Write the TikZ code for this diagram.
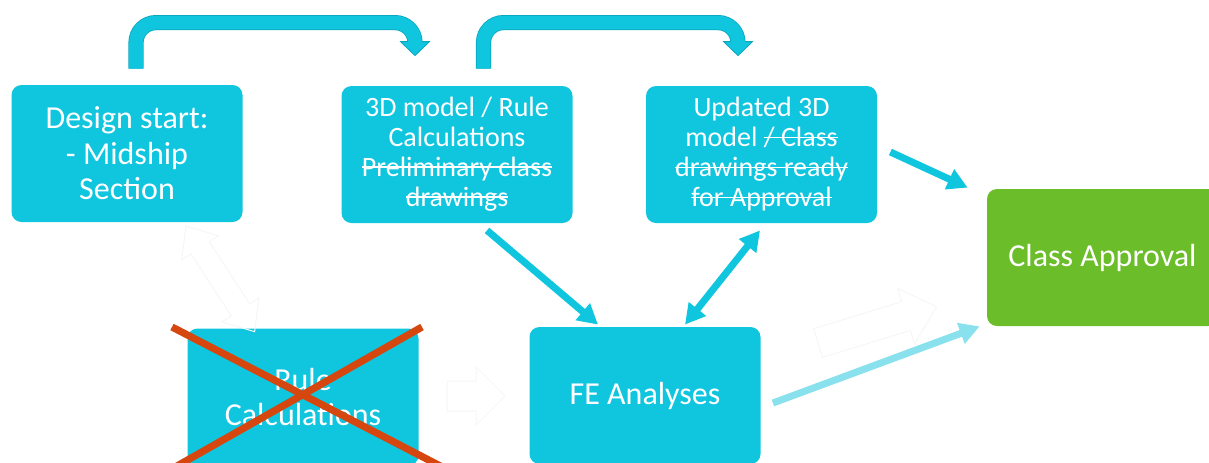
\documentclass[tikz,border=0pt]{standalone}
\usepackage{fontspec}
\setmainfont{Carlito}
\usetikzlibrary{arrows.meta,calc}

\definecolor{boxcyan}{HTML}{10C5DE}
\definecolor{edgecyan}{HTML}{0BA6BD}
\definecolor{approvegreen}{HTML}{6BBD2A}
\definecolor{crossred}{HTML}{D6470F}
\definecolor{palecyan}{HTML}{8AE1EE}
\definecolor{ghostgray}{HTML}{F6F6F6}

% struck-through text: the word with a thin rule laid across it
\newcommand\strk[1]{\setbox0\hbox{#1}\rlap{\rule[0.66ex]{\wd0}{0.75pt}}\box0}

\begin{document}
\begin{tikzpicture}[x=0.5pt,y=-0.5pt,
  box/.style={rectangle, rounded corners=5pt, fill=boxcyan, text=white,
    minimum width=115.5pt, minimum height=68.5pt, inner sep=0pt, align=center,
    font=\fontsize{14}{15}\selectfont},
  bigtext/.style={font=\fontsize{16}{17.75}\selectfont},
  flow/.style={draw=boxcyan, line width=3.5pt,
    -{Triangle[width=10.5pt,length=10pt]}},
  bentback/.style={draw=edgecyan, line width=7.6pt, rounded corners=10pt},
  bentfront/.style={draw=boxcyan, line width=6.8pt, rounded corners=10pt},
  bentedge/.style={fill=boxcyan, draw=edgecyan, line width=0.4pt, line join=miter},
  ghost/.style={draw=ghostgray, line width=0.5pt},
  crossline/.style={draw=crossred, line width=3.6pt}
]
\useasboundingbox (0,0) rectangle (1209,462);
\clip (0,0) rectangle (1209,462);

% process boxes
\node[box, bigtext] (des) at (127,153.5) {Design start:\\- Midship\\Section};
\node[box] (m3d) at (457,154.5)
  {3D model / Rule\\Calculations\\\strk{Preliminary class}\\\strk{drawings}};
\node[box] (upd) at (761.5,154.5)
  {Updated 3D\\model \strk{/ Class}\\\strk{drawings ready}\\\strk{for Approval}};
\node[box, bigtext, fill=approvegreen] (cls) at (1102.5,257.5) {Class Approval};
\node[box, bigtext] (rule) at (303,397) {Rule\\Calculations};
\node[box, bigtext] (fe) at (645,395.5) {FE Analyses};

% faint block arrows left in the background
\draw[ghost] (447,381) -- (476,381) -- (476,367) -- (505,396) -- (476,425)
  -- (476,411) -- (447,411) -- cycle;
\begin{scope}[shift={(818,343)}, rotate=17]
  \draw[ghost] (0,-15) -- (92,-15) -- (92,-29) -- (124,0) -- (92,29)
    -- (92,15) -- (0,15) -- cycle;
\end{scope}
\begin{scope}[shift={(186,226)}, rotate=-57]
  \draw[ghost] (0,0) -- (26,-22) -- (26,-11) -- (100,-11) -- (100,-22)
    -- (126,0) -- (100,22) -- (100,11) -- (26,11) -- (26,22) -- cycle;
\end{scope}

% bent arrows over the top
\coordinate (b1s) at ($(des.north)+(9,-16)$);
\coordinate (b1h) at ($(m3d.north)+(-42,-44)$);
\coordinate (b2s) at ($(m3d.north)+(26.5,-17)$);
\coordinate (b2h) at ($(upd.north)+(-23.5,-44)$);
\foreach \s/\h in {b1s/b1h, b2s/b2h}{
  \draw[bentback] (\s) |- ($(\h)+(0,-19)$) -- (\h);
  \filldraw[bentedge] ($(\h)+(-14.5,0)$) -- ($(\h)+(14.5,0)$)
    -- ($(\h)+(0,14)$) -- cycle;
  \draw[bentfront] (\s) |- ($(\h)+(0,-19)$) -- ($(\h)+(0,2)$);
}

% straight connectors
\draw[flow] ($(m3d.south)+(30,7)$) -- ($(fe.north)+(-47,-2)$);
\draw[flow, {Triangle[width=10.5pt,length=10pt]}-{Triangle[width=10.5pt,length=10pt]}]
  ($(fe.north)+(40,-2)$) -- ($(upd.south)+(-1.5,7)$);
\draw[flow] ($(upd.east)+(13,-2.5)$) -- ($(cls.north west)+(-19,-1)$);
\draw[flow, draw=palecyan] ($(fe.east)+(12,7.5)$) -- ($(cls.south west)+(-7,0)$);

% cross over the rule calculations box
\draw[crossline] ($(rule)+(-131,-70)$) -- ($(rule)+(145,73)$);
\draw[crossline] ($(rule)+(119,-70)$) -- ($(rule)+(-133,73)$);
\end{tikzpicture}
\end{document}
